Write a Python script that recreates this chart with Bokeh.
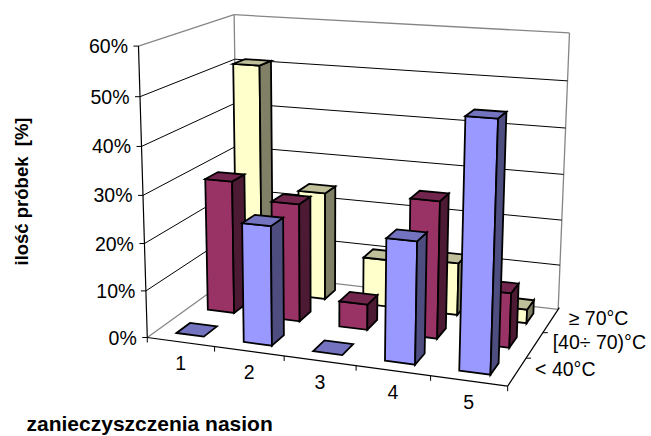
import numpy as np
from bokeh.plotting import figure
from bokeh.models import Range1d, ColumnDataSource
from bokeh.core.properties import value
from bokeh.embed import file_html
from bokeh.resources import INLINE

categories = ["1", "2", "3", "4", "5"]
series_names = ["< 40°C", "[40÷ 70)°C", "≥ 70°C"]
blue_values = [0, 25, 0, 25, 50]
burgundy_values = [29, 25.5, 5.5, 29, 11.5]
yellow_values = [51, 24, 10.5, 11.5, 3]
value_ticks = [0, 10, 20, 30, 40, 50, 60]
y_title = "ilość próbek \u00a0[%]"
x_title = "zanieczyszczenia nasion"

front_colors = ["#9999FF", "#993366", "#FFFFCC"]
side_colors = ["#4D4D80", "#4D1A33", "#808066"]
top_colors = ["#7373BF", "#73264D", "#BFBF99"]

# Calibration of the perspective scale: (category, depth, value) -> page pixel
calib = [
    (0,0,0,148,336),(5,0,0,506,386),(5,3,0,558,307),(0,3,0,235,273),
    (0,0,60,136,45),(0,3,60,235,14),(5,3,60,569,34),
    (1,0,0,215,346),(2,0,0,283,356),(3,0,0,355,366),(4,0,0,429,376),
    (5,1,0,527,357),(5,2,0,544,333),
    (0,0,10,146,290),(0,0,20,145,243),(0,0,30,143,195),(0,0,40,141,146),(0,0,50,139,96),
    (0,3,50,235,58),(0,3,40,235,104),(0,3,30,235,145),
    (5,3,10,559,264),(5,3,20,561,220),(5,3,30,563,174),(5,3,40,565,127),(5,3,50,567,80),
]
A = []
for u, w, v, X, Y in calib:
    v = v / 10
    X, Y = (X - 300) / 300, (Y - 200) / 300
    A.append([u, w, v, 1, 0, 0, 0, 0, -X*u, -X*w, -X*v, -X])
    A.append([0, 0, 0, 0, u, w, v, 1, -Y*u, -Y*w, -Y*v, -Y])
P = np.linalg.svd(np.array(A, float))[2][-1].reshape(3, 4)

def proj(u, w, v):
    q = P @ np.array([u, w, v / 10, 1.0])
    return q[0] / q[2] * 300 + 300, q[1] / q[2] * 300 + 200

p = figure(width=651, height=436, x_range=Range1d(0, 651), y_range=Range1d(436, 0),
           x_axis_type=None, y_axis_type=None, toolbar_location=None,
           output_backend="svg", min_border=0, outline_line_color=None)
p.grid.visible = False

def seg(a, b, color="#000000", width=1.0):
    p.line([a[0], b[0]], [a[1], b[1]], line_color=color, line_width=width)

grey = "#868686"
vmax = value_ticks[-1]
# walls and floor
seg(proj(0,0,vmax), proj(0,3,vmax), grey, 1.3)
seg(proj(0,3,vmax), proj(5,3,vmax), grey, 1.3)
seg(proj(0,3,vmax), proj(0,3,0), grey, 1.3)
seg(proj(5,3,vmax), proj(5,3,0), grey, 1.3)
seg(proj(0,0,0), proj(0,3,0), grey, 1.3)
seg(proj(0,3,0), proj(5,3,0), grey, 1.3)
for t in value_ticks[1:-1]:
    seg(proj(0,0,t), proj(0,3,t), "#000000", 1.0)
    seg(proj(0,3,t), proj(5,3,t), "#000000", 1.0)

# axes
seg(proj(0,0,0), proj(0,0,vmax), "#000000", 1.2)
seg(proj(0,0,0), proj(5,0,0), "#000000", 1.2)
seg(proj(5,0,0), proj(5,3.08,0), "#000000", 1.2)
for t in value_ticks:
    x, y = proj(0,0,t)
    seg((x-5, y), (x, y))
for i in range(6):
    x, y = proj(i,0,0)
    seg((x, y), (x, y+5))
for j in range(1, 3):
    x, y = proj(5,j,0)
    seg((x, y), (x+5, y))

# bars, back row first, left to right
all_values = [blue_values, burgundy_values, yellow_values]
bw, bd = 0.41, 0.42
xs, ys, fills = [], [], []
for j in [2, 1, 0]:
    for i in range(5):
        v = all_values[j][i]
        u0, u1 = i + .5 - bw/2, i + .5 + bw/2
        w0, w1 = j + .5 - bd/2, j + .5 + bd/2
        faces = [
            ([(u0,w0,0),(u1,w0,0),(u1,w0,v),(u0,w0,v)], front_colors[j]),
            ([(u1,w0,0),(u1,w1,0),(u1,w1,v),(u1,w0,v)], side_colors[j]),
            ([(u0,w0,v),(u1,w0,v),(u1,w1,v),(u0,w1,v)], top_colors[j]),
        ]
        if v == 0:
            faces = faces[2:]
        for corners, col in faces:
            pts = [proj(*c) for c in corners]
            xs.append([a for a, b in pts])
            ys.append([b for a, b in pts])
            fills.append(col)
p.patches(xs="xs", ys="ys", fill_color="fills", line_color="#000000", line_width=1.8,
          line_join="miter", source=ColumnDataSource(dict(xs=xs, ys=ys, fills=fills)))

font = value("Liberation Sans")
def label(x, y, s, align="left", bold=False, size="19.5px", angle=0):
    p.text([x], [y], text=[s], text_font=font, text_font_size=size, text_color="#000000",
           text_align=align, text_baseline="middle", angle=angle,
           text_font_style="bold" if bold else "normal")

for t in value_ticks:
    x, y = proj(0,0,t)
    label(x - 10.5, y, f"{t}%", "right")
for i, c in enumerate(categories):
    x, y = proj(i + .5, 0, 0)
    label(x, y + 21, c, "center")
for j, s in enumerate(series_names):
    x, y = proj(5, j + .5, 0)
    label(x + 18, y - 3, s)
label(21, 191, y_title, "center", True, "18.5px", np.pi/2)
label(26, 423, x_title, "left", True, "21px")

open("out.html", "w").write(file_html(p, INLINE))
